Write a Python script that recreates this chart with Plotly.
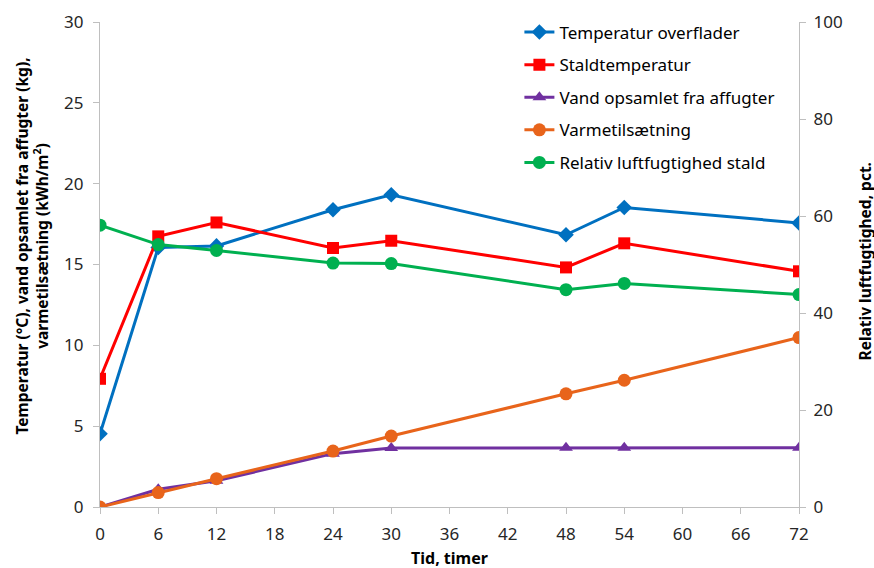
import plotly.graph_objects as go

hours = [0, 6, 12, 24, 30, 48, 54, 72]
temp_overflader = [4.53, 16.05, 16.15, 18.39, 19.31, 16.84, 18.53, 17.57]
staldtemperatur = [7.93, 16.74, 17.6, 16.02, 16.47, 14.82, 16.31, 14.58]
vand_opsamlet = [0.0, 1.1, 1.62, 3.3, 3.65, 3.67, 3.67, 3.67]
varmetilsaetning = [0.0, 0.89, 1.75, 3.46, 4.39, 7.0, 7.84, 10.48]
rel_luftfugtighed = [58.1, 54.1, 52.9, 50.3, 50.2, 44.8, 46.1, 43.8]

x_ticks = list(range(0, 73, 6))
left_ticks = [0, 5, 10, 15, 20, 25, 30]
right_ticks = [0, 20, 40, 60, 80, 100]

FONT = "Noto Sans"
fig = go.Figure()

series = [
    ("Temperatur overflader", temp_overflader, "#0070C0", "diamond", 12, "y"),
    ("Staldtemperatur", staldtemperatur, "#FF0000", "square", 12, "y"),
    ("Vand opsamlet fra affugter", vand_opsamlet, "#7030A0", "triangle-up", 12, "y"),
    ("Varmetilsætning", varmetilsaetning, "#E8641B", "circle", 13, "y"),
    ("Relativ luftfugtighed stald", rel_luftfugtighed, "#00B050", "circle", 13, "y2"),
]
for i, (name, vals, col, sym, sz, ax) in enumerate(series):
    fig.add_trace(go.Scatter(
        x=hours, y=vals, name=name, yaxis=ax, mode="lines+markers",
        line=dict(color=col, width=3),
        marker=dict(color=col, symbol=sym, size=sz),
        legendgroup=f"g{i}",
    ))

# plot area in screen px: x 100..799, y 22..507 (page body margin removed)
W, H = 874, 568
L, R, T, B = 100, 75, 22, 61
PW, PH = W - L - R, H - T - B


def px(X):
    return (X - L) / PW


def py(Y):
    return (H - B - Y) / PH


axis_col = "#BFBFBF"
tick_font = dict(family=FONT, size=17, color="#262626")
title_font = dict(family=FONT, size=15.5, color="#000000")

fig.update_layout(
    width=W, height=H,
    margin=dict(l=L, r=R, t=T, b=B, autoexpand=False),
    plot_bgcolor="white", paper_bgcolor="white",
    font=dict(family=FONT, size=16, color="#262626"),
    showlegend=True,
    legend=dict(
        x=0.6, y=1.0155, xanchor="left", yanchor="top",
        font=dict(family=FONT, size=17, color="#000000"),
        tracegroupgap=7.5, itemwidth=30, bgcolor="rgba(0,0,0,0)",
    ),
    xaxis=dict(
        range=[0, 72], tickvals=x_ticks, ticktext=[str(t) for t in x_ticks],
        showline=True, linecolor=axis_col, linewidth=1.3,
        ticks="outside", tickcolor=axis_col, ticklen=6,
        showgrid=False, zeroline=False, ticklabelstandoff=5,
        tickfont=tick_font,
    ),
    yaxis=dict(
        range=[0, 30], tickvals=left_ticks,
        showline=True, linecolor=axis_col, linewidth=1.3,
        ticks="outside", tickcolor=axis_col, ticklen=6,
        showgrid=False, zeroline=False, ticklabelstandoff=6,
        tickfont=tick_font,
    ),
    yaxis2=dict(
        range=[0, 100], tickvals=right_ticks, overlaying="y", side="right",
        showline=True, linecolor=axis_col, linewidth=1.3,
        ticks="outside", tickcolor=axis_col, ticklen=6,
        showgrid=False, zeroline=False, ticklabelstandoff=4,
        tickfont=tick_font,
    ),
)

fig.add_annotation(
    text="<b>Temperatur (°C), vand opsamlet fra affugter (kg),<br>varmetilsætning (kWh/m<sup>2</sup>)</b>",
    xref="paper", yref="paper", x=px(31.5), y=py(246), xanchor="center", yanchor="middle",
    textangle=-90, showarrow=False, font=title_font, align="center",
)
fig.add_annotation(
    text="<b>Relativ luftfugtighed, pct.</b>",
    xref="paper", yref="paper", x=px(864), y=py(261.5), xanchor="center", yanchor="middle",
    textangle=-90, showarrow=False, font=dict(family=FONT, size=15.5, color="#000000"),
)
fig.add_annotation(
    text="<b>Tid, timer</b>",
    xref="paper", yref="paper", x=px(449.5), y=py(558), xanchor="center", yanchor="middle",
    showarrow=False, font=dict(family=FONT, size=16, color="#000000"),
)

fig.write_html(
    "out.html",
    config={"displayModeBar": False},
    post_script="document.body.style.margin='0';document.body.style.overflow='hidden';",
)
